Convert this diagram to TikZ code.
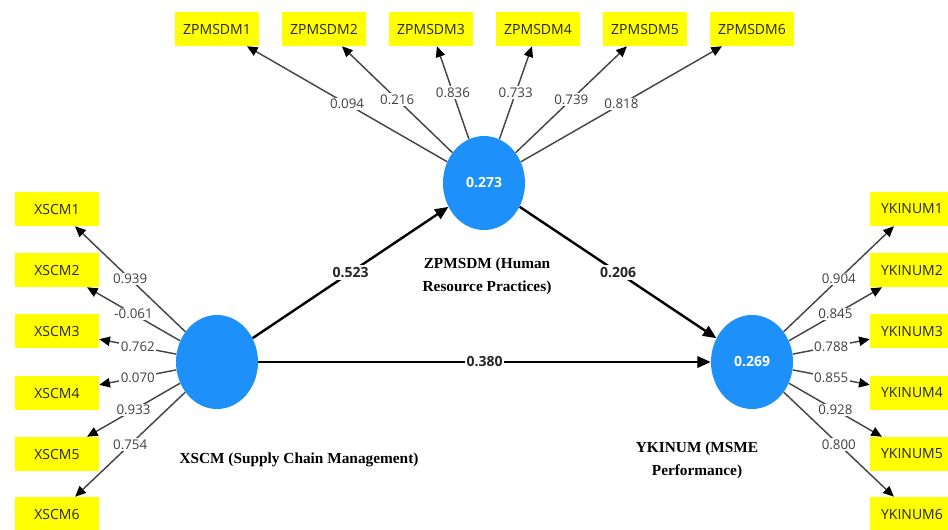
\documentclass[tikz,border=0pt]{standalone}
\usepackage{fontspec}
\setmainfont{Liberation Serif}
\newfontfamily\plsfont{Open Sans}
\usetikzlibrary{arrows.meta,shapes.geometric}
\definecolor{lvblue}{RGB}{30,144,250}
\definecolor{itemyellow}{RGB}{255,255,0}
\definecolor{loadgray}{RGB}{70,70,70}
\tikzset{
    indicator/.style={fill=itemyellow, minimum width=63pt, minimum height=25.5pt,
                      inner sep=0pt, text=black!85, font=\plsfont\fontsize{10.5}{12}\selectfont},
    latent/.style={ellipse, fill=lvblue, minimum width=61.5pt, minimum height=70.5pt,
                   inner sep=0pt, text=white, font=\plsfont\bfseries\fontsize{10.5}{12}\selectfont},
    loading/.style={-{Triangle[length=8pt,width=7pt,color=black]}, line width=1.1pt, draw=loadgray},
    pathcoef/.style={-{Triangle[length=10pt,width=8.5pt]}, line width=1.8pt},
    weight/.style={fill=white, inner sep=1pt, text=black!75,
                   font=\plsfont\fontsize{10}{12}\selectfont},
    coef/.style={fill=white, inner sep=1.5pt, text=black!85,
                 font=\plsfont\bfseries\fontsize{10.5}{12}\selectfont},
    lvname/.style={font=\bfseries\fontsize{11.5}{17}\selectfont, align=center},
}
\newcommand{\loadarrow}[3]{
    \draw[loading] (#1) -- node[weight] {#3} (#2);
}

\begin{document}
\begin{tikzpicture}[x=0.75pt, y=-0.75pt]
    \useasboundingbox (0,0) rectangle (948,529);
    \clip (0,0) rectangle (948,529);

    % latent variables
    \node[latent] (xscm) at (217,362) {};
    \node[latent] (zpmsdm) at (484,183) {0.273};
    \node[latent] (ykinum) at (752,362) {0.269};
    \node[lvname] (zpmsdmname) at (487,276) {ZPMSDM (Human\\Resource Practices)};
    \node[lvname] (xscmname) at (299,460) {XSCM (Supply Chain Management)};
    \node[lvname] (ykinumname) at (697,460) {YKINUM (MSME\\Performance)};

    % indicators
    \node[indicator] (z1) at (217,29) {ZPMSDM1};
    \node[indicator] (z2) at (324,29) {ZPMSDM2};
    \node[indicator] (z3) at (431,29) {ZPMSDM3};
    \node[indicator] (z4) at (538,29) {ZPMSDM4};
    \node[indicator] (z5) at (645,29) {ZPMSDM5};
    \node[indicator] (z6) at (752,29) {ZPMSDM6};
    \node[indicator] (x1) at (57,209) {XSCM1};
    \node[indicator] (x2) at (57,270) {XSCM2};
    \node[indicator] (x3) at (57,331) {XSCM3};
    \node[indicator] (x4) at (57,393) {XSCM4};
    \node[indicator] (x5) at (57,454) {XSCM5};
    \node[indicator] (x6) at (57,514) {XSCM6};
    \node[indicator] (y1) at (912,209) {YKINUM1};
    \node[indicator] (y2) at (912,270) {YKINUM2};
    \node[indicator] (y3) at (912,331) {YKINUM3};
    \node[indicator] (y4) at (912,393) {YKINUM4};
    \node[indicator] (y5) at (912,454) {YKINUM5};
    \node[indicator] (y6) at (912,514) {YKINUM6};

    % outer loadings
    \loadarrow{zpmsdm}{z1}{0.094}
    \loadarrow{zpmsdm}{z2}{0.216}
    \loadarrow{zpmsdm}{z3}{0.836}
    \loadarrow{zpmsdm}{z4}{0.733}
    \loadarrow{zpmsdm}{z5}{0.739}
    \loadarrow{zpmsdm}{z6}{0.818}
    \loadarrow{xscm}{x1}{0.939}
    \loadarrow{xscm}{x2}{-0.061}
    \loadarrow{xscm}{x3}{0.762}
    \loadarrow{xscm}{x4}{0.070}
    \loadarrow{xscm}{x5}{0.933}
    \loadarrow{xscm}{x6}{0.754}
    \loadarrow{ykinum}{y1}{0.904}
    \loadarrow{ykinum}{y2}{0.845}
    \loadarrow{ykinum}{y3}{0.788}
    \loadarrow{ykinum}{y4}{0.855}
    \loadarrow{ykinum}{y5}{0.928}
    \loadarrow{ykinum}{y6}{0.800}

    % path coefficients
    \draw[pathcoef] (xscm) -- node[coef] {0.523} (zpmsdm);
    \draw[pathcoef] (zpmsdm) -- node[coef] {0.206} (ykinum);
    \draw[pathcoef] (xscm) -- node[coef] {0.380} (ykinum);

\end{tikzpicture}
\end{document}
